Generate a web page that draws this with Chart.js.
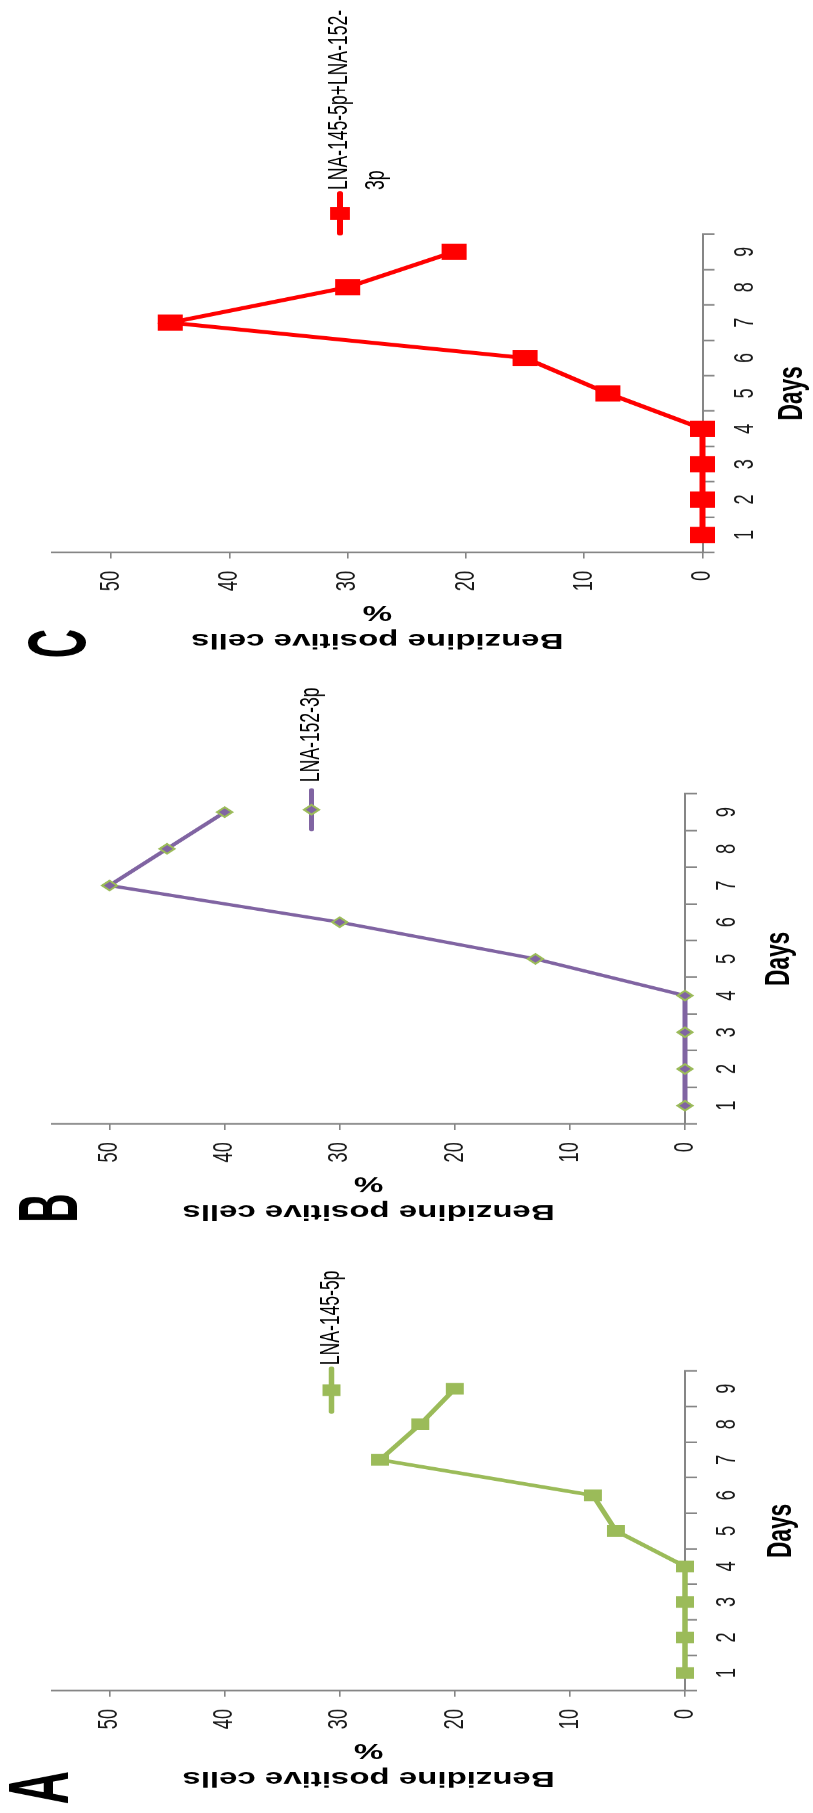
<!DOCTYPE html>
<html>
<head>
<meta charset="utf-8">
<title>Benzidine positive cells</title>
<script src="https://cdn.jsdelivr.net/npm/chart.js@4.4.1/dist/chart.umd.min.js"></script>
<style>
  html, body { margin: 0; padding: 0; background: #fff; }
  body { width: 813px; height: 1813px; overflow: hidden; position: relative; }
  /* the three panels sit side by side, then the whole strip is turned on its side */
  #figure {
    position: absolute; left: 0; top: 0;
    width: 2789px; height: 813px;
    transform-origin: 0 0;
    transform: translateY(1813px) rotate(-90deg) scaleX(0.65);
  }
  #figure canvas { position: absolute; top: 0; }
</style>
</head>
<body>
<div id="figure">
  <canvas id="panelA" width="900" height="813" style="left:0px"></canvas>
  <canvas id="panelB" width="860" height="813" style="left:900px"></canvas>
  <canvas id="panelC" width="1029" height="813" style="left:1760px"></canvas>
</div>
<script>
const days = ['1', '2', '3', '4', '5', '6', '7', '8', '9'];
const lna145 = [0, 0, 0, 0, 6, 8, 26.5, 23, 20];
const lna152 = [0, 0, 0, 0, 13, 30, 50, 45, 40];
const lnaBoth = [0, 0, 0, 0, 8, 15, 45, 30, 21];
const seriesNames = ['LNA-145-5p', 'LNA-152-3p', 'LNA-145-5p+LNA-152-3p'];
const panelLetters = ['A', 'B', 'C'];
const yTitle = ['Benzidine positive cells', '%'];
const xTitle = 'Days';
const valueMax = 55;
const valueStep = 10;

const fontFamily = "'Liberation Sans', Arial, sans-serif";
const axisGrey = '#868686';
const yAxisWidth = 160;
const daysFontSize = 35;

Chart.defaults.font.family = fontFamily;
Chart.defaults.color = '#000';

const seriesStyles = [
  { color: '#9BBB59', width: 5.5, pointStyle: 'rect', radius: 12.7, fill: '#9BBB59', border: '#9BBB59', borderWidth: 0, legendRadius: 12.7 },
  { color: '#8064A2', width: 5, pointStyle: 'rectRot', radius: 7.5, fill: '#8064A2', border: '#9BBB59', borderWidth: 2.5, legendRadius: 7.5 },
  { color: '#FF0000', width: 6, pointStyle: 'rect', radius: 17.7, fill: '#FF0000', border: '#FF0000', borderWidth: 0, legendRadius: 14 }
];

const panels = [
  { id: 'panelA', values: lna145, area: { left: 188, right: 680, top: 52, bottom: 685 }, daysGap: 96,
    letterBox: { x: 15, y: 10, w: 48, h: 58 }, legend: { x: 617, y: 331.5, len: 67, textX: 689 } },
  { id: 'panelB', values: lna152, area: { left: 160, right: 668, top: 52, bottom: 685 }, daysGap: 94,
    letterBox: { x: 12, y: 20, w: 39, h: 57 }, legend: { x: 613, y: 311.5, len: 61, textX: 686 } },
  { id: 'panelC', values: lnaBoth, area: { left: 179, right: 669, top: 52, bottom: 702.5 }, daysGap: 90,
    letterBox: { x: 19, y: 28, w: 41, h: 57 }, legend: { x: 670, y: 340, len: 62, textX: 737 } }
];

// split a series name at hyphens so no line is wider than maxWidth
function wrapName(ctx, name, maxWidth) {
  const parts = name.split(/(?<=-)/);
  const lines = [];
  let line = '';
  parts.forEach(part => {
    if (line && ctx.measureText(line + part).width > maxWidth) {
      lines.push(line);
      line = part;
    } else {
      line += part;
    }
  });
  lines.push(line);
  return lines;
}

// panel letter plus the small line-and-marker legend
const panelDecor = {
  id: 'panelDecor',
  afterDraw(chart, args, opts) {
    const ctx = chart.ctx;
    const box = opts.letterBox;

    ctx.save();
    ctx.font = 'bold 80px ' + fontFamily;
    ctx.fillStyle = '#000';
    ctx.textBaseline = 'alphabetic';
    const m = ctx.measureText(opts.letter);
    const sx = box.w / (m.actualBoundingBoxLeft + m.actualBoundingBoxRight);
    const sy = box.h / m.actualBoundingBoxAscent;
    ctx.translate(box.x, box.y + box.h);
    ctx.scale(sx, sy);
    ctx.fillText(opts.letter, m.actualBoundingBoxLeft, 0);
    ctx.restore();

    const lg = opts.legend;
    const st = opts.style;
    ctx.save();
    ctx.strokeStyle = st.color;
    ctx.lineWidth = st.width;
    ctx.lineCap = 'round';
    ctx.beginPath();
    ctx.moveTo(lg.x, lg.y);
    ctx.lineTo(lg.x + lg.len, lg.y);
    ctx.stroke();
    ctx.fillStyle = st.fill;
    ctx.strokeStyle = st.border;
    ctx.lineWidth = st.borderWidth;
    Chart.helpers.drawPoint(ctx, { pointStyle: st.pointStyle, radius: st.legendRadius, borderWidth: st.borderWidth, rotation: 0 },
      lg.x + lg.len / 2, lg.y);

    ctx.font = '27px ' + fontFamily;
    ctx.fillStyle = '#000';
    ctx.textBaseline = 'middle';
    ctx.textAlign = 'left';
    wrapName(ctx, opts.name, 285).forEach((line, i) => {
      ctx.fillText(line, lg.textX, lg.y + i * 36.5);
    });
    ctx.restore();
  }
};

function makeChart(p, i) {
  const canvas = document.getElementById(p.id);
  const W = canvas.width;
  const H = canvas.height;
  const a = p.area;
  const st = seriesStyles[i];

  return new Chart(canvas, {
    type: 'line',
    data: {
      labels: days,
      datasets: [{
        label: seriesNames[i],
        data: p.values,
        borderColor: st.color,
        borderWidth: st.width,
        backgroundColor: st.fill,
        pointStyle: st.pointStyle,
        pointRadius: st.radius,
        pointHoverRadius: st.radius,
        pointBackgroundColor: st.fill,
        pointBorderColor: st.border,
        pointBorderWidth: st.borderWidth,
        tension: 0,
        clip: false
      }]
    },
    options: {
      responsive: false,
      animation: false,
      devicePixelRatio: 1,
      events: [],
      layout: { padding: { left: a.left - yAxisWidth, right: W - a.right, top: a.top, bottom: 0 } },
      plugins: {
        legend: { display: false },
        tooltip: { enabled: false },
        panelDecor: { letter: panelLetters[i], letterBox: p.letterBox, legend: p.legend, style: st, name: seriesNames[i] }
      },
      scales: {
        x: {
          type: 'category',
          offset: true,
          afterFit: s => { s.height = H - a.bottom; },
          grid: { offset: true, drawOnChartArea: false, tickLength: 12, color: axisGrey, lineWidth: 2.5 },
          border: { color: axisGrey, width: 2 },
          ticks: { font: { size: 28 }, color: '#1a1a1a', padding: 13.6, maxRotation: 0, autoSkip: false },
          title: {
            display: true, text: xTitle, color: '#000',
            font: { size: daysFontSize, weight: 'bold' },
            padding: { top: 0, bottom: H - a.bottom - p.daysGap - daysFontSize * 0.6 }
          }
        },
        y: {
          min: 0,
          max: valueMax,
          afterFit: s => { s.width = yAxisWidth; },
          grid: { drawOnChartArea: false, tickLength: 9, color: axisGrey, lineWidth: 1.6 },
          border: { color: axisGrey, width: 2.6 },
          ticks: { stepSize: valueStep, includeBounds: false, font: { size: 28 }, color: '#1a1a1a', padding: 19 },
          title: {
            display: true, text: yTitle, color: '#000',
            font: { size: 33, weight: 'bold', lineHeight: 1.3 },
            padding: { top: 4.4, bottom: 0 }
          }
        }
      }
    },
    plugins: [panelDecor]
  });
}

panels.forEach(makeChart);
</script>
</body>
</html>
